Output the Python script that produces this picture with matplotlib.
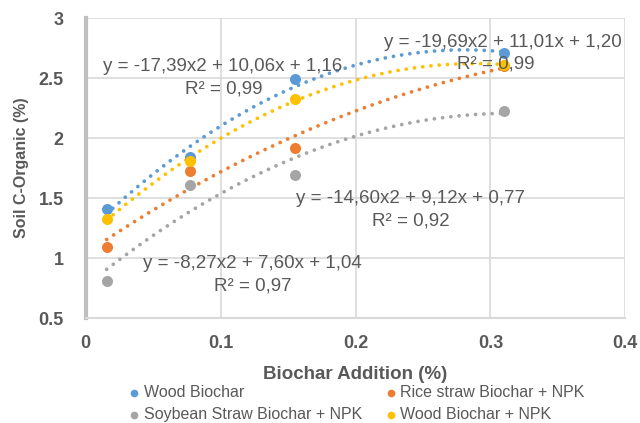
import numpy as np
import matplotlib.pyplot as plt

# Datos
biochar = [0.0155, 0.0775, 0.155, 0.31]
wood = [1.41, 1.84, 2.49, 2.71]
rice_npk = [1.09, 1.73, 1.92, 2.60]
soybean_npk = [0.81, 1.61, 1.69, 2.23]
wood_npk = [1.33, 1.81, 2.33, 2.61]

series_names = ['Wood Biochar', 'Rice straw Biochar + NPK',
                'Soybean Straw Biochar + NPK', 'Wood Biochar + NPK']
series_values = [wood, rice_npk, soybean_npk, wood_npk]
colors = ['#5B9BD5', '#ED7D31', '#A5A5A5', '#FFC000']

equations = ['y = -17,39x2 + 10,06x + 1,16', 'y = -19,69x2 + 11,01x + 1,20',
             'y = -14,60x2 + 9,12x + 0,77', 'y = -8,27x2 + 7,60x + 1,04']
r2_labels = ['R² = 0,99', 'R² = 0,99', 'R² = 0,92', 'R² = 0,97']

txt = '#595959'
plt.rcParams['font.family'] = ['Liberation Sans', 'DejaVu Sans']

fig = plt.figure(figsize=(6.4, 4.23), dpi=100)
ax = fig.add_axes([0.134, 0.248, 0.843, 0.709])

x = np.array(biochar)
xs = np.linspace(x.min(), x.max(), 300)
handles = []
for name, vals, c in zip(series_names, series_values, colors):
    coef = np.polyfit(x, vals, 2)  # línea de tendencia polinómica
    ax.plot(xs, np.polyval(coef, xs), color=c, lw=2.7,
            linestyle=(0, (0.01, 2.2)), dash_capstyle='round', zorder=2)
    h = ax.scatter(x, vals, s=48, color=c, zorder=3, label=name)
    handles.append(h)

# Ecuaciones de las líneas de tendencia
eq_pos = [(0.1017, 2.594), (0.3095, 2.794), (0.2405, 1.50), (0.1236, 0.958)]
r2_pos = [(0.1024, 2.408), (0.3043, 2.617), (0.2412, 1.308), (0.1240, 0.767)]
for (ex, ey), (rx, ry), eq, r2 in zip(eq_pos, r2_pos, equations, r2_labels):
    ax.text(ex, ey, eq, ha='center', va='center', color=txt, fontsize=13.5, zorder=4)
    ax.text(rx, ry, r2, ha='center', va='center', color=txt, fontsize=13.5, zorder=4)

ax.set_xlim(0, 0.4)
ax.set_ylim(0.5, 3)
ax.set_xticks([0, 0.1, 0.2, 0.3, 0.4])
ax.set_xticklabels(['0', '0.1', '0.2', '0.3', '0.4'])
ax.set_yticks([0.5, 1, 1.5, 2, 2.5, 3])
ax.set_yticklabels(['0.5', '1', '1.5', '2', '2.5', '3'])
ax.grid(True, color='#D9D9D9', lw=1.2)
ax.set_axisbelow(True)
for s in ['top', 'right']:
    ax.spines[s].set_visible(False)
ax.spines['left'].set_color('#BFBFBF')
ax.spines['left'].set_linewidth(3)
ax.spines['bottom'].set_color('#D9D9D9')
ax.spines['bottom'].set_linewidth(1.5)
ax.tick_params(length=0, labelsize=13, labelcolor=txt)
ax.tick_params(axis='x', pad=12)
ax.tick_params(axis='y', pad=16)
for lab in ax.get_xticklabels() + ax.get_yticklabels():
    lab.set_fontweight('bold')

ax.set_xlabel('Biochar Addition (%)', fontsize=13.5, fontweight='bold', color=txt, labelpad=10)
ax.set_ylabel('Soil C-Organic (%)', fontsize=11.5, fontweight='bold', color=txt, labelpad=7)

order = [0, 2, 1, 3]
leg = fig.legend([handles[i] for i in order], [series_names[i] for i in order],
                 ncol=2, loc='center', bbox_to_anchor=(0.555, 0.046),
                 frameon=False, fontsize=11.5, labelcolor=txt, markerscale=0.65,
                 handletextpad=0.1, columnspacing=1.3, labelspacing=0.45,
                 handlelength=1.0, borderpad=0)

fig.savefig('out.png', dpi=100)
